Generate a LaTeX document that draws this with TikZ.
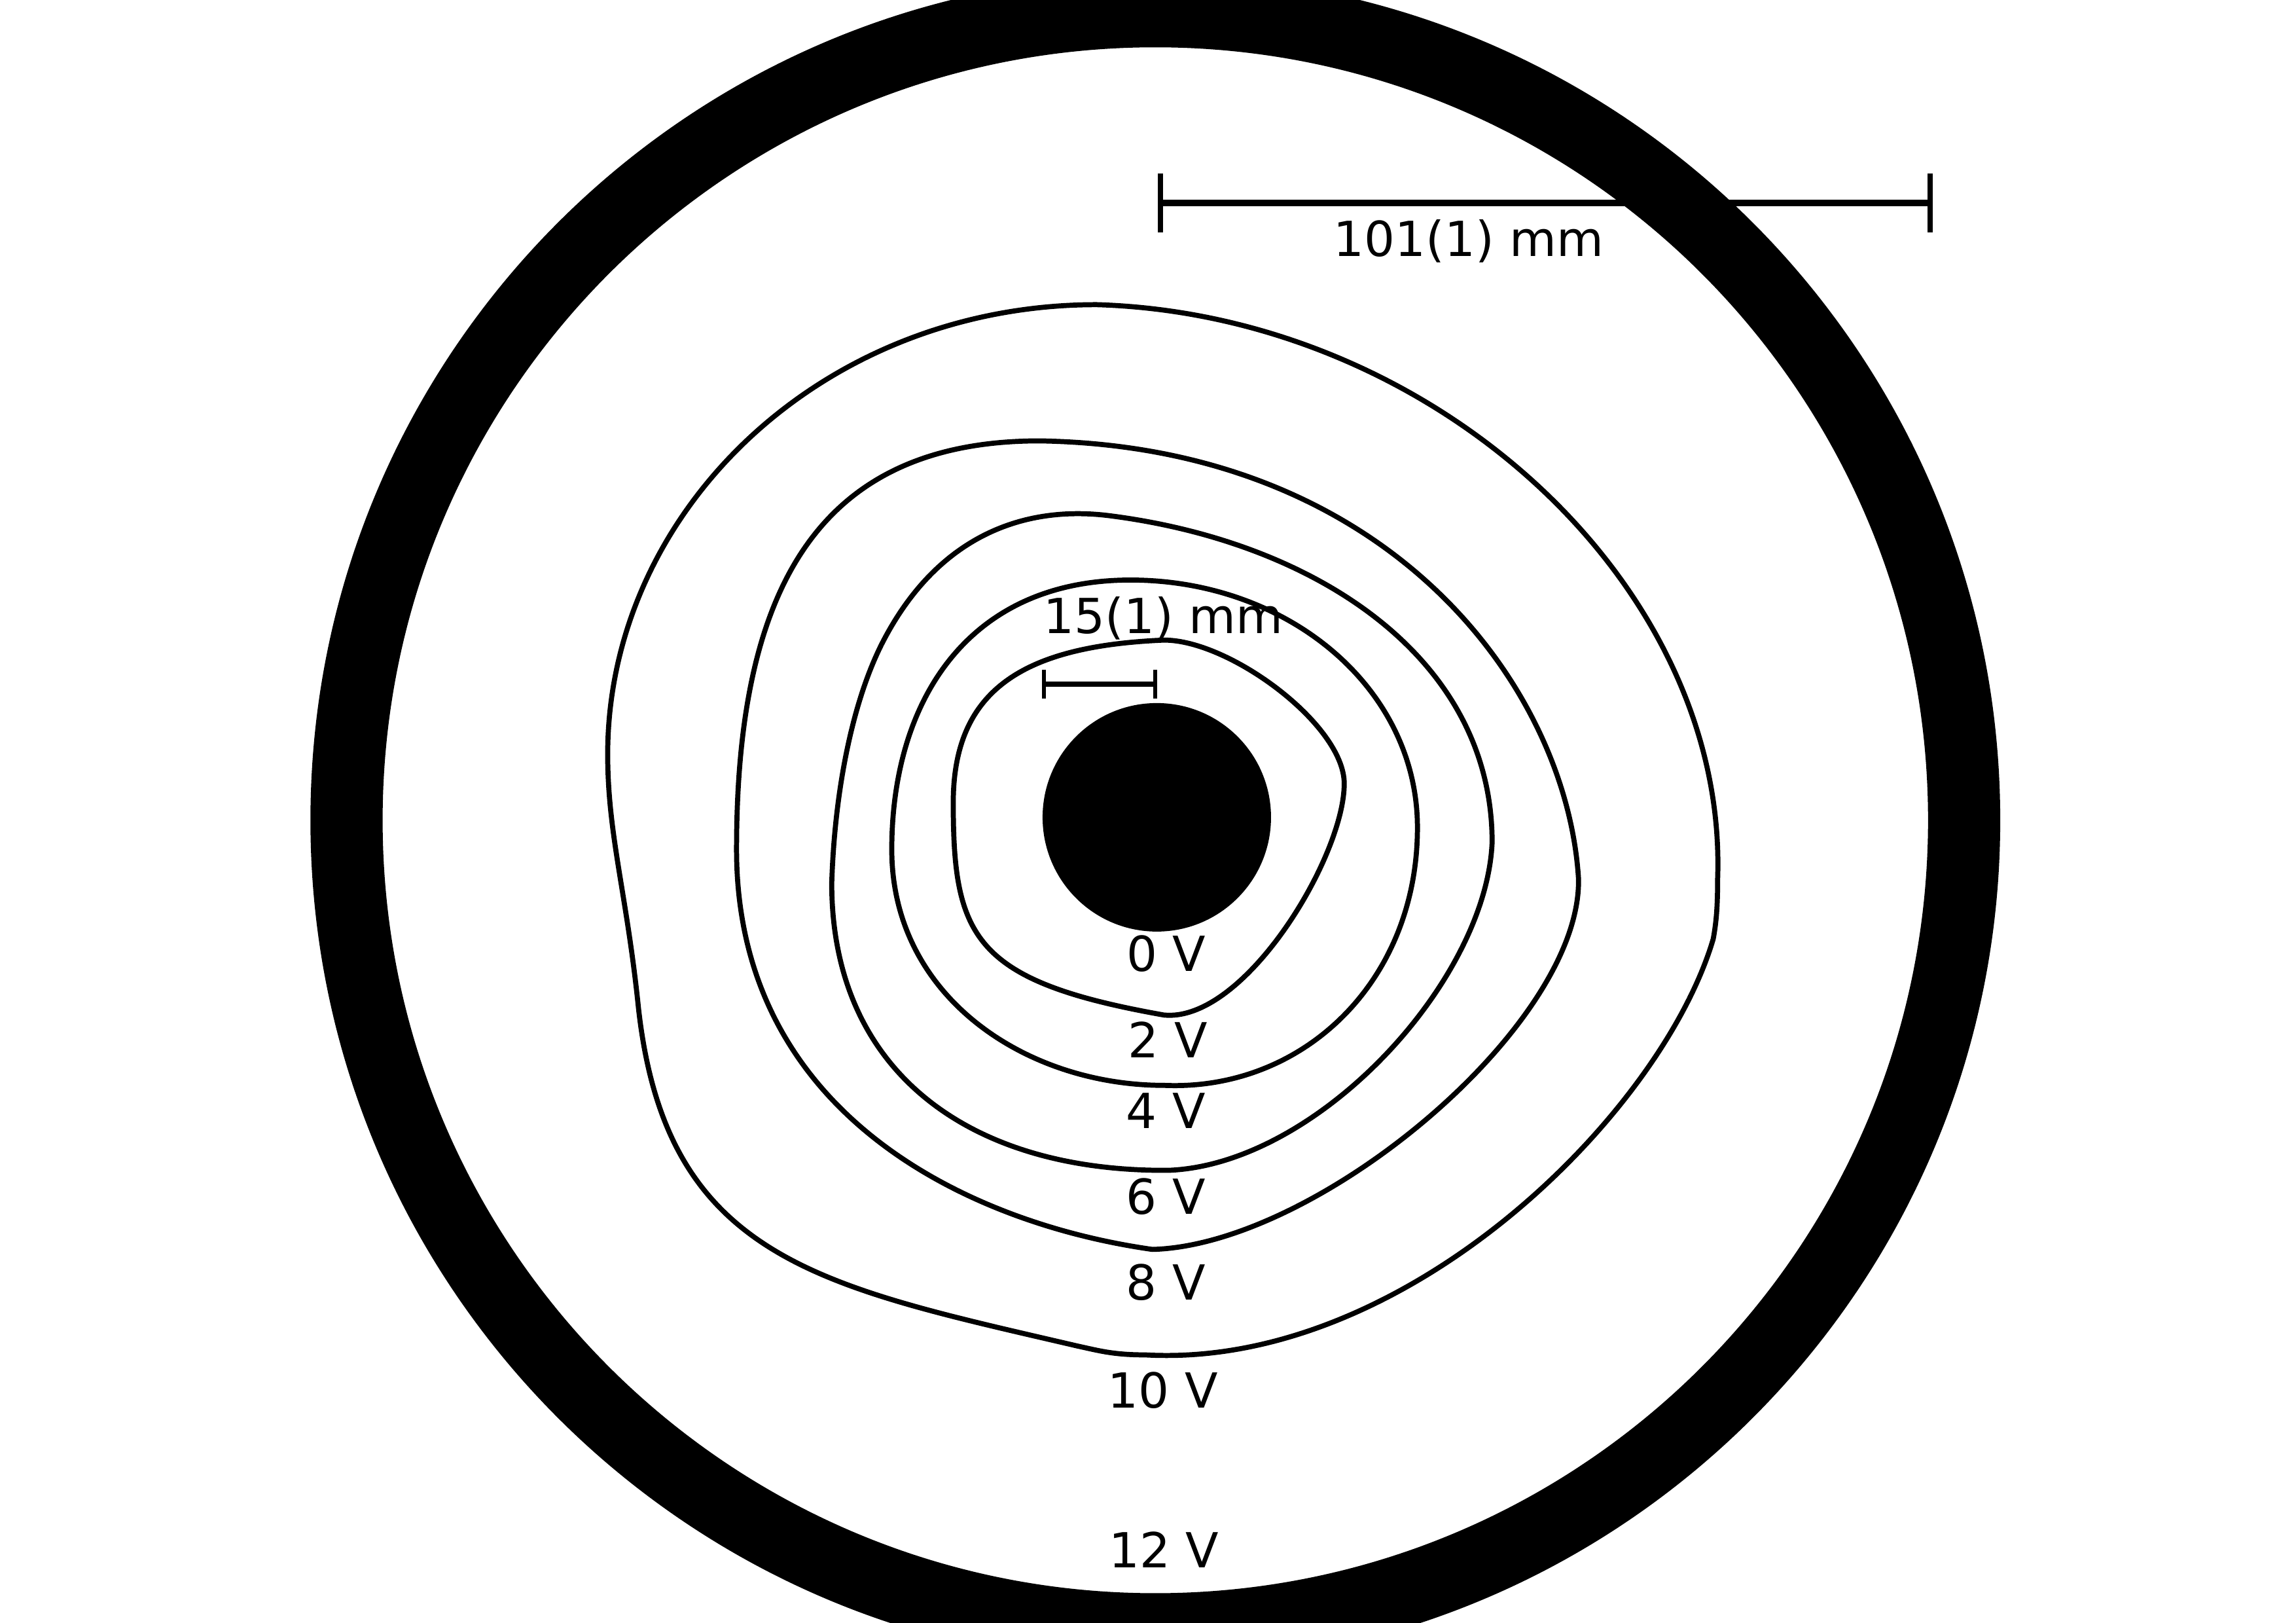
\documentclass[tikz,border=0pt]{standalone}
\usepackage{fontspec}
\setmainfont{DejaVu Sans}
\usepackage{tikz}
\usetikzlibrary{arrows}

\begin{document}
\begin{tikzpicture}
         [x=0.22372mm, y=-0.22372mm,
          equi/.style={line width=2.2pt, line join=round},
          lbl/.style={anchor=base, inner sep=0pt, font=\fontsize{21}{25}\selectfont}]
         \useasboundingbox (0,0) rectangle (1568,1108);
         \clip (0,0) rectangle (1568,1108);

         % electrodes
         \fill[even odd rule] (789,560) circle [radius=577] (789,560) circle [radius=527.7];
         \fill (790,558) circle [radius=78];

         % equipotential lines, 0 V to 10 V
         \draw[equi] (795,437) .. controls (700,441) and (651,470) .. (651,548)
            .. controls (651,640) and (665,670) .. (795,693)
            .. controls (850,698) and (918,585) .. (918,535)
            .. controls (918,495) and (840,437) .. (795,437) -- cycle;
         \draw[equi] (772,396) .. controls (880,396) and (968,470) .. (968,565)
            .. controls (968,670) and (890,745) .. (795,741)
            .. controls (700,741) and (609,680) .. (609,580)
            .. controls (609,480) and (660,396) .. (772,396) -- cycle;
         \draw[equi] (757,352) .. controls (900,370) and (1019,450) .. (1019,575)
            .. controls (1015,670) and (900,795) .. (798,799)
            .. controls (660,800) and (568,730) .. (568,603)
            .. controls (570,540) and (582,480) .. (602,440)
            .. controls (640,365) and (700,345) .. (757,352) -- cycle;
         \draw[equi] (710,301) .. controls (950,305) and (1070,470) .. (1078,600)
            .. controls (1080,700) and (900,850) .. (787,853)
            .. controls (660,835) and (503,760) .. (503,580)
            .. controls (503,400) and (560,301) .. (710,301) -- cycle;
         \draw[equi] (749,208) .. controls (980,215) and (1180,400) .. (1173,600)
            .. controls (1173,620) and (1172,630) .. (1170,641)
            .. controls (1135,760) and (960,935) .. (782,925)
            .. controls (760,925) and (750,922) .. (736,919)
            .. controls (560,878) and (455,860) .. (436,688)
            .. controls (428,610) and (415,570) .. (415,515)
            .. controls (415,350) and (560,208) .. (749,208) -- cycle;

         % scale bars
         \coordinate (bigl) at (792.5,138.6);
         \coordinate (bigr) at (1318,138.6);
         \coordinate (smalll) at (712.8,466.9);
         \coordinate (smallr) at (789,466.9);
         \draw[line width=2.8pt] (bigl) -- (bigr);
         \draw[line width=2.4pt] (792.5,118.5) -- (792.5,158.7) (1318,118.5) -- (1318,158.7);
         \draw[line width=2.3pt] (smalll) -- (smallr);
         \draw[line width=1.6pt] (712.8,457.2) -- (712.8,477) (789,457.2) -- (789,477);
         \node[lbl] (big) at (1003,175) {101(1) mm};
         \node[lbl] (small) at (794.5,432.6) {15(1) mm};

         % potentials
         \node[lbl] (v0) at (796.3,663.3) {0 V};
         \node[lbl] (v2) at (797.5,722.1) {2 V};
         \node[lbl] (v4) at (796.2,770.4) {4 V};
         \node[lbl] (v6) at (796.2,828.8) {6 V};
         \node[lbl] (v8) at (796.2,887.3) {8 V};
         \node[lbl] (v10) at (794.2,961.1) {10 V};
         \node[lbl] (v12) at (794.9,1070.3) {12 V};
      \end{tikzpicture}
\end{document}
